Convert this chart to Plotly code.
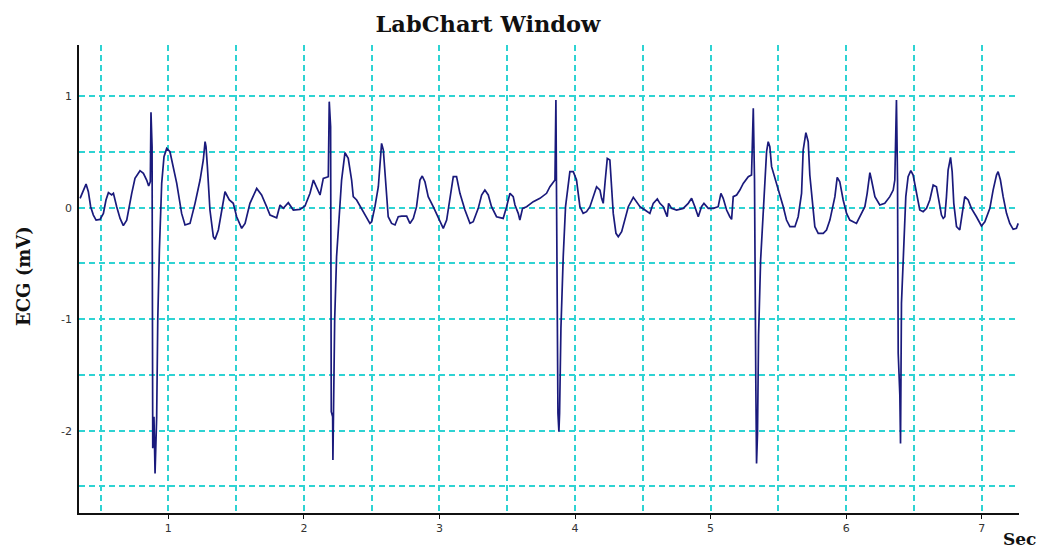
import plotly.graph_objects as go

# Time (s) and ECG (mV) values
t_sec = [
    0.349, 0.373, 0.393, 0.410, 0.427, 0.447, 0.467, 0.496, 0.521, 0.540,
    0.558, 0.582, 0.595, 0.619, 0.644, 0.668, 0.693, 0.730, 0.754, 0.791,
    0.816, 0.840, 0.855, 0.867, 0.872, 0.880, 0.885, 0.894, 0.902, 0.914,
    0.922, 0.934, 0.951, 0.968, 0.988, 1.012, 1.037, 1.062, 1.098, 1.123,
    1.160, 1.197, 1.234, 1.258, 1.271, 1.278, 1.288, 1.307, 1.332, 1.344,
    1.369, 1.394, 1.418, 1.450, 1.479, 1.504, 1.541, 1.566, 1.602, 1.652,
    1.688, 1.725, 1.750, 1.799, 1.824, 1.848, 1.885, 1.922, 1.971, 2.008,
    2.045, 2.070, 2.106, 2.119, 2.143, 2.173, 2.180, 2.187, 2.197, 2.202,
    2.212, 2.214, 2.227, 2.241, 2.261, 2.278, 2.303, 2.327, 2.352, 2.364,
    2.389, 2.426, 2.463, 2.487, 2.500, 2.524, 2.549, 2.573, 2.586, 2.605,
    2.622, 2.647, 2.672, 2.696, 2.721, 2.758, 2.782, 2.807, 2.831, 2.856,
    2.873, 2.893, 2.917, 2.954, 2.991, 3.028, 3.053, 3.077, 3.102, 3.126,
    3.151, 3.188, 3.225, 3.249, 3.286, 3.311, 3.335, 3.360, 3.384, 3.421,
    3.470, 3.495, 3.520, 3.544, 3.557, 3.581, 3.593, 3.613, 3.643, 3.692,
    3.741, 3.790, 3.815, 3.852, 3.859, 3.874, 3.881, 3.886, 3.896, 3.913,
    3.930, 3.962, 3.987, 4.011, 4.036, 4.060, 4.085, 4.110, 4.134, 4.159,
    4.171, 4.184, 4.196, 4.208, 4.223, 4.238, 4.257, 4.265, 4.282, 4.302,
    4.319, 4.344, 4.368, 4.393, 4.430, 4.454, 4.479, 4.516, 4.552, 4.577,
    4.607, 4.626, 4.651, 4.670, 4.680, 4.690, 4.712, 4.749, 4.798, 4.835,
    4.860, 4.884, 4.909, 4.933, 4.951, 4.983, 5.020, 5.056, 5.076, 5.093,
    5.118, 5.142, 5.155, 5.167, 5.192, 5.216, 5.241, 5.278, 5.302, 5.315,
    5.324, 5.334, 5.339, 5.346, 5.354, 5.369, 5.388, 5.401, 5.413, 5.425,
    5.437, 5.450, 5.487, 5.511, 5.536, 5.560, 5.585, 5.622, 5.646, 5.671,
    5.683, 5.703, 5.720, 5.732, 5.745, 5.757, 5.769, 5.794, 5.831, 5.855,
    5.880, 5.917, 5.934, 5.953, 5.978, 6.003, 6.027, 6.076, 6.101, 6.138,
    6.155, 6.175, 6.187, 6.212, 6.248, 6.285, 6.322, 6.347, 6.359, 6.371,
    6.379, 6.384, 6.396, 6.401, 6.408, 6.425, 6.440, 6.457, 6.477, 6.494,
    6.519, 6.543, 6.568, 6.593, 6.617, 6.642, 6.666, 6.679, 6.703, 6.716,
    6.728, 6.740, 6.752, 6.770, 6.782, 6.794, 6.814, 6.838, 6.858, 6.875,
    6.900, 6.924, 6.961, 6.998, 7.023, 7.060, 7.084, 7.109, 7.121, 7.138,
    7.158, 7.183, 7.207, 7.232, 7.256, 7.269,
]
ecg_mv = [
    0.084, 0.158, 0.212, 0.143, 0.009, -0.066, -0.111, -0.105, -0.051, 0.069,
    0.135, 0.114, 0.129, 0.009, -0.096, -0.161, -0.111, 0.129, 0.263, 0.332,
    0.308, 0.248, 0.194, 0.233, 0.855, 0.547, -2.158, -1.874, -2.383, -1.874,
    -1.007, -0.380, 0.218, 0.457, 0.532, 0.502, 0.368, 0.218, -0.051, -0.155,
    -0.141, 0.039, 0.248, 0.428, 0.592, 0.547, 0.368, -0.021, -0.260, -0.284,
    -0.200, -0.021, 0.143, 0.069, 0.039, -0.081, -0.185, -0.141, 0.039, 0.173,
    0.114, 0.009, -0.066, -0.090, 0.024, -0.006, 0.045, -0.021, -0.015, 0.015,
    0.129, 0.248, 0.158, 0.114, 0.263, 0.278, 0.278, 0.951, 0.726, -1.830,
    -1.874, -2.263, -1.007, -0.439, -0.021, 0.248, 0.493, 0.442, 0.248, 0.099,
    0.069, -0.006, -0.081, -0.141, -0.126, 0.009, 0.188, 0.577, 0.517, 0.188,
    -0.081, -0.141, -0.155, -0.081, -0.075, -0.075, -0.141, -0.096, 0.009, 0.248,
    0.284, 0.233, 0.099, 0.009, -0.081, -0.185, -0.111, 0.069, 0.278, 0.278,
    0.129, -0.021, -0.141, -0.126, -0.006, 0.114, 0.158, 0.114, 0.009, -0.081,
    -0.096, 0.009, 0.129, 0.099, 0.024, -0.051, -0.111, -0.006, 0.009, 0.054,
    0.084, 0.129, 0.188, 0.248, 0.966, -1.845, -2.009, -1.845, -1.082, -0.439,
    0.009, 0.323, 0.323, 0.248, 0.009, -0.051, -0.036, 0.009, 0.099, 0.188,
    0.173, 0.158, 0.084, 0.039, 0.248, 0.442, 0.428, 0.278, -0.051, -0.230,
    -0.260, -0.215, -0.111, 0.009, 0.093, 0.054, 0.009, -0.021, -0.051, 0.039,
    0.078, 0.039, 0.009, -0.051, -0.081, 0.039, -0.006, -0.021, -0.006, 0.039,
    0.084, 0.009, -0.081, 0.009, 0.039, -0.006, -0.006, 0.009, 0.129, 0.084,
    -0.021, -0.081, -0.105, 0.099, 0.114, 0.158, 0.218, 0.278, 0.293, 0.891,
    0.248, -1.635, -2.293, -2.024, -1.142, -0.469, 0.009, 0.248, 0.502, 0.592,
    0.547, 0.368, 0.218, 0.114, 0.009, -0.111, -0.170, -0.170, -0.081, 0.129,
    0.517, 0.673, 0.592, 0.293, 0.129, 0.009, -0.170, -0.230, -0.230, -0.200,
    -0.111, 0.099, 0.272, 0.233, 0.069, -0.051, -0.111, -0.141, -0.081, 0.009,
    0.129, 0.314, 0.248, 0.099, 0.024, 0.039, 0.099, 0.158, 0.248, 0.966,
    0.248, -1.306, -1.680, -2.114, -0.858, -0.260, 0.099, 0.278, 0.332, 0.293,
    0.129, -0.021, -0.036, -0.006, 0.069, 0.203, 0.188, 0.084, -0.066, -0.096,
    -0.081, 0.099, 0.338, 0.451, 0.323, 0.039, -0.170, -0.200, -0.051, 0.099,
    0.069, -0.006, -0.081, -0.164, -0.126, -0.006, 0.158, 0.293, 0.323, 0.248,
    0.099, -0.051, -0.141, -0.194, -0.185, -0.141,
]

# grid every 0.5, labels only on whole numbers
x_gridvals = [0.5, 1, 1.5, 2, 2.5, 3, 3.5, 4, 4.5, 5, 5.5, 6, 6.5, 7]
x_ticklabels = ["", "1", "", "2", "", "3", "", "4", "", "5", "", "6", "", "7"]
x_tickmarks = [1, 2, 3, 4, 5, 6, 7]
y_gridvals = [-2.5, -2, -1.5, -1, -0.5, 0, 0.5, 1]
y_ticklabels = ["", "-2", "", "-1", "", "0", "", "1"]

GRID = "#2ed3d3"
DASH = "6px,4px"
TICKFONT = dict(family="DejaVu Sans", size=11, color="#333333")

fig = go.Figure()
fig.add_trace(go.Scatter(
    x=t_sec, y=ecg_mv, mode="lines",
    line=dict(color="#1a1a7c", width=1.7),
    showlegend=False, hoverinfo="skip",
))

fig.update_layout(
    width=1051, height=550,
    margin=dict(l=79, r=32, t=45, b=37),
    paper_bgcolor="white", plot_bgcolor="white",
    title=dict(text="<b>LabChart Window</b>", x=488/1051, xanchor="center",
               xref="container", yref="container", y=1-24/550, yanchor="middle",
               font=dict(family="DejaVu Serif", size=22.5, color="#111111")),
    xaxis=dict(range=[0.341, 7.275], tickmode="array", tickvals=x_gridvals,
               ticktext=x_ticklabels,
               showgrid=True, gridcolor=GRID, griddash=DASH, gridwidth=1.5,
               showline=True, linecolor="#111111", linewidth=1.5,
               ticks="outside", ticklen=4, tickcolor="rgba(0,0,0,0)",
               minor=dict(tickmode="array", tickvals=x_tickmarks,
                          ticks="outside", ticklen=4, tickcolor="#111111",
                          showgrid=False),
               tickfont=TICKFONT, zeroline=False),
    yaxis=dict(range=[-2.738, 1.459], tickmode="array", tickvals=y_gridvals,
               ticktext=y_ticklabels,
               showgrid=True, gridcolor=GRID, griddash=DASH, gridwidth=1.5,
               showline=True, linecolor="#111111", linewidth=1.5,
               ticks="outside", ticklen=3, tickcolor="rgba(0,0,0,0)",
               tickfont=TICKFONT, zeroline=False),
    annotations=[
        dict(text="<b>ECG (mV)</b>", xref="paper", yref="paper",
             x=(23-79)/940, y=(513-276)/468, textangle=-90,
             showarrow=False, xanchor="center", yanchor="middle",
             font=dict(family="DejaVu Serif", size=18, color="#111111")),
        dict(text="<b>Sec</b>", xref="paper", yref="paper",
             x=(1019-79)/940, y=(513-539)/468,
             showarrow=False, xanchor="center", yanchor="middle",
             font=dict(family="DejaVu Serif", size=17, color="#111111")),
    ],
)

fig.write_html("out.html", config={"displayModeBar": False},
               post_script="document.body.style.margin='0px';")
